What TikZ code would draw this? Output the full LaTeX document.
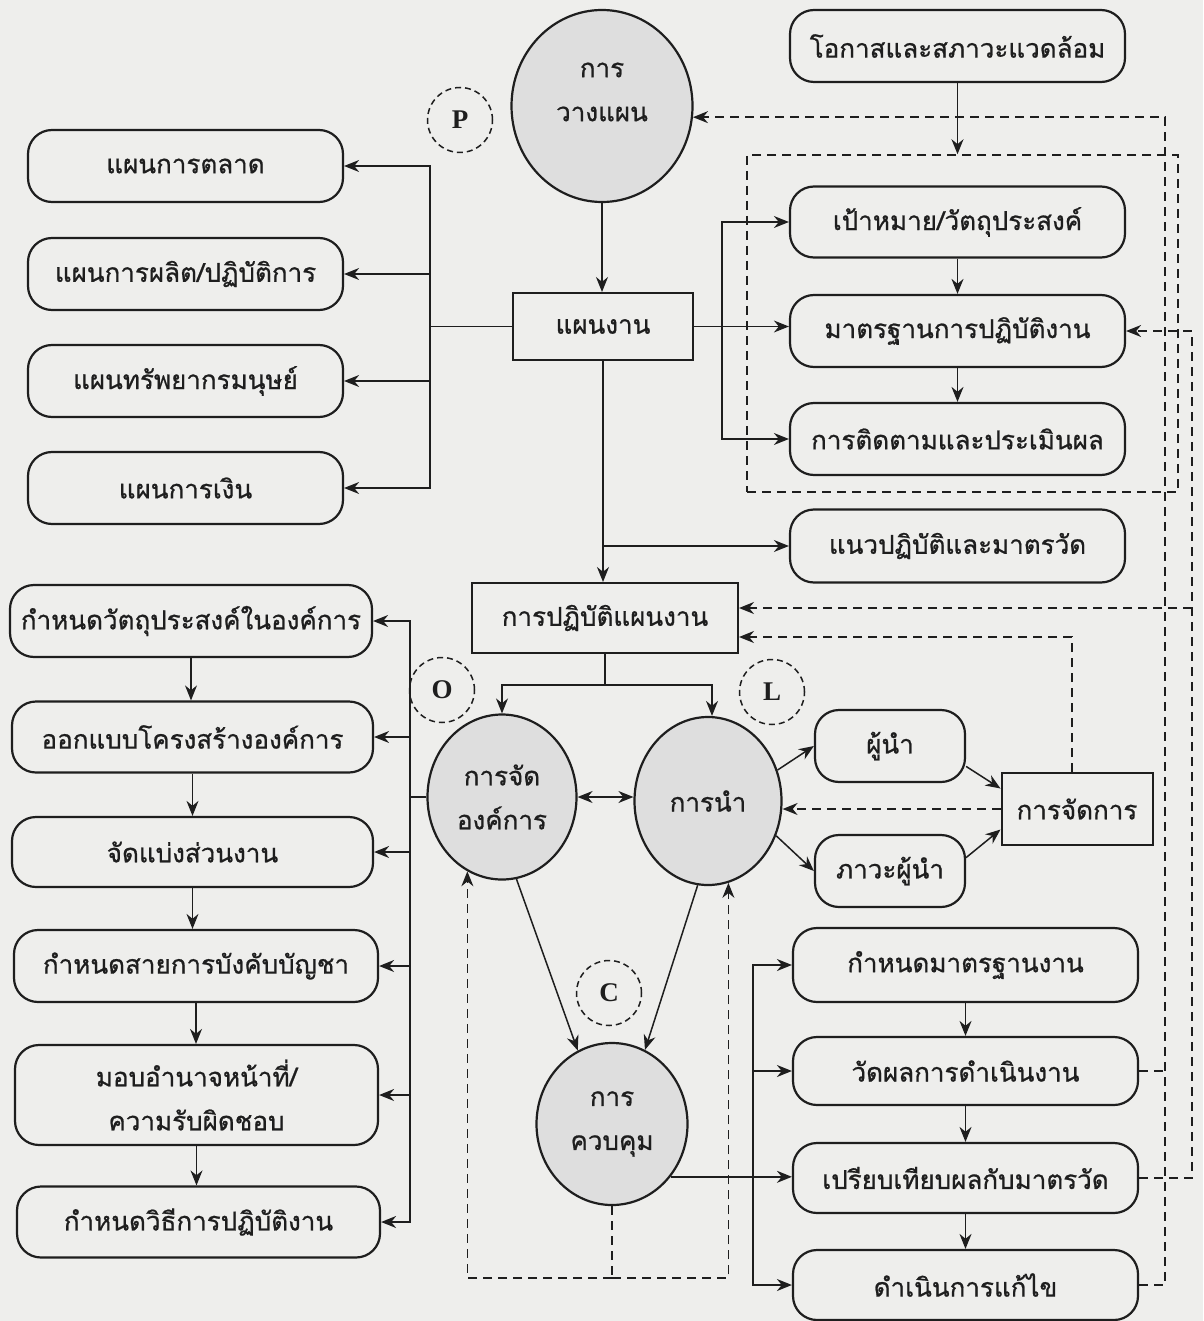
\documentclass[tikz,border=0pt]{standalone}
\usepackage{fontspec}
\setmainfont[Script=Thai, FakeBold=0.8]{Loma}
\newfontfamily\lettfont{Liberation Serif}
\usetikzlibrary{arrows.meta,shapes.geometric}

\definecolor{paper}{HTML}{EEEEEC}
\definecolor{discfill}{HTML}{DEDEDE}
\definecolor{ink}{HTML}{1E1E1E}

\begin{document}
\begin{tikzpicture}[x=1pt,y=-1pt,
  every node/.style={font=\fontsize{26}{44}\selectfont, text=ink},
  rbox/.style={draw=ink, line width=2.2pt, rounded corners=24pt, align=center, inner sep=0pt},
  sbox/.style={draw=ink, line width=2pt, align=center, inner sep=0pt},
  disc/.style={ellipse, draw=ink, line width=2.2pt, fill=discfill, align=center, inner sep=0pt},
  tag/.style={circle, draw=ink, line width=1.5pt, dash pattern=on 6pt off 4pt,
    minimum size=65pt, inner sep=0pt, font=\lettfont\bfseries\fontsize{27}{27}\selectfont},
  dashbox/.style={draw=ink, line width=1.5pt, dash pattern=on 9pt off 6pt, inner sep=0pt},
  arr/.style={draw=ink, line width=1.5pt, -{Stealth[length=15pt,width=12pt]}},
  dbl/.style={draw=ink, line width=1.5pt, {Stealth[length=15pt,width=12pt]}-{Stealth[length=15pt,width=12pt]}},
  link/.style={draw=ink, line width=1.5pt},
  darr/.style={draw=ink, line width=1.5pt, dash pattern=on 9pt off 6pt, -{Stealth[length=15pt,width=12pt]}},
  dlink/.style={draw=ink, line width=1.5pt, dash pattern=on 9pt off 6pt},
]
% paper
\fill[paper] (0,0) rectangle (1203,1321);
\useasboundingbox (0,0) rectangle (1203,1321);

% ---------- planning ----------
\node[disc, minimum width=181pt, minimum height=192pt] (plan) at (602,106) {};
\node[align=center] (plantext) at (602,92) {การ\\วางแผน};
\node[tag] (P) at (460,120) {P};
\node[sbox, minimum width=180pt, minimum height=67pt] (plans) at (603,326.5) {แผนงาน};

\node[rbox, minimum width=315pt, minimum height=72pt] (mkt)  at (185.5,166) {แผนการตลาด};
\node[rbox, minimum width=315pt, minimum height=72pt] (prod) at (185.5,274) {แผนการผลิต/ปฏิบัติการ};
\node[rbox, minimum width=315pt, minimum height=72pt] (hr)   at (185.5,381) {แผนทรัพยากรมนุษย์};
\node[rbox, minimum width=315pt, minimum height=72pt] (fin)  at (185.5,488) {แผนการเงิน};

\node[rbox, minimum width=335pt, minimum height=72pt] (env)   at (957.5,46)  {โอกาสและสภาวะแวดล้อม};
\node[dashbox, minimum width=431pt, minimum height=337pt] (dbox) at (962.5,323.5) {};
\node[rbox, minimum width=335pt, minimum height=71pt] (goal)  at (957.5,222) {เป้าหมาย/วัตถุประสงค์};
\node[rbox, minimum width=335pt, minimum height=72pt] (std)   at (957.5,331) {มาตรฐานการปฏิบัติงาน};
\node[rbox, minimum width=335pt, minimum height=72pt] (mon)   at (957.5,439) {การติดตามและประเมินผล};
\node[rbox, minimum width=335pt, minimum height=73pt] (guide) at (957.5,546) {แนวปฏิบัติและมาตรวัด};

\node[sbox, minimum width=266pt, minimum height=70pt] (impl) at (605,618) {การปฏิบัติแผนงาน};

% ---------- organizing / leading ----------
\node[tag] (O) at (442,690) {O};
\node[tag] (L) at (772,692) {L};
\node[disc, minimum width=149pt, minimum height=165pt] (org)  at (502,797) {การจัด\\องค์การ};
\node[disc, minimum width=147pt, minimum height=168pt] (lead) at (708,801) {การนำ};

\node[rbox, minimum width=362pt, minimum height=72pt]  (o1) at (191,621)  {กำหนดวัตถุประสงค์ในองค์การ};
\node[rbox, minimum width=361pt, minimum height=71pt]  (o2) at (192.5,737) {ออกแบบโครงสร้างองค์การ};
\node[rbox, minimum width=361pt, minimum height=70pt]  (o3) at (192.5,852) {จัดแบ่งส่วนงาน};
\node[rbox, minimum width=364pt, minimum height=72pt]  (o4) at (196,966)  {กำหนดสายการบังคับบัญชา};
\node[rbox, minimum width=363pt, minimum height=100pt] (o5) at (196.5,1095) {มอบอำนาจหน้าที่/\\ความรับผิดชอบ};
\node[rbox, minimum width=363pt, minimum height=71pt]  (o6) at (198.5,1222) {กำหนดวิธีการปฏิบัติงาน};

\node[rbox, minimum width=150pt, minimum height=72pt] (leader)     at (890,746) {ผู้นำ};
\node[rbox, minimum width=150pt, minimum height=72pt] (leadership) at (890,871) {ภาวะผู้นำ};
\node[sbox, minimum width=151pt, minimum height=72pt] (mgmt)       at (1077,809) {การจัดการ};

% ---------- controlling ----------
\node[tag] (C) at (609,993) {C};
\node[disc, minimum width=151pt, minimum height=162pt] (ctrl) at (612,1124) {การ\\ควบคุม};

\node[rbox, minimum width=345pt, minimum height=74pt] (c1) at (965.5,965)  {กำหนดมาตรฐานงาน};
\node[rbox, minimum width=345pt, minimum height=68pt] (c2) at (965.5,1071) {วัดผลการดำเนินงาน};
\node[rbox, minimum width=345pt, minimum height=70pt] (c3) at (965.5,1178) {เปรียบเทียบผลกับมาตรวัด};
\node[rbox, minimum width=345pt, minimum height=70pt] (c4) at (965.5,1285) {ดำเนินการแก้ไข};

% ---------- junction points ----------
\coordinate (lsp)  at (430,326.5);
\coordinate (rsp)  at (722,326.5);
\coordinate (isp)  at (605,685);
\coordinate (osp)  at (410,797);
\coordinate (csp)  at (753,1176);
\coordinate (fbx)  at (1165,0);
\coordinate (fby)  at (1192,0);
\coordinate (base) at (0,1278);
\coordinate (iin1) at ([yshift=10pt]impl.east);
\coordinate (iin2) at ([yshift=-19pt]impl.east);

% ---------- planning connectors ----------
\draw[arr] (plan.south) -- (plan.south |- plans.north);
\draw[link] (plans.west) -- (lsp);
\draw[arr] (lsp) |- (mkt.east);
\draw[arr] (lsp) |- (prod.east);
\draw[arr] (lsp) |- (hr.east);
\draw[arr] (lsp) |- (fin.east);

\draw[arr] (env.south) -- (env.south |- dbox.north);
\draw[arr] (goal.south) -- (std.north);
\draw[arr] (std.south) -- (mon.north);
\draw[arr] (plans.east) -- (plans.east -| std.west);
\draw[arr] (rsp) |- (goal.west);
\draw[arr] (rsp) |- (mon.west);

\draw[arr] (plans.south) -- (plans.south |- impl.north);
\draw[arr] (plans.south |- guide.west) -- (guide.west);

% ---------- organizing / leading connectors ----------
\draw[link] (impl.south) -- (isp);
\draw[arr] (isp) -| (org.north);
\draw[arr] (isp) -| ([xshift=4pt]lead.north);
\draw[dbl] (org.east) -- (org.east -| lead.west);

\draw[link] (org.west) -- (osp);
\draw[arr] (osp) |- (o1.east);
\draw[arr] (osp) |- (o2.east);
\draw[arr] (osp) |- (o3.east);
\draw[arr] (osp) |- (o4.east);
\draw[arr] (osp) |- (o5.east);
\draw[arr] (osp) |- (o6.east);
\draw[arr] (o1.south) -- (o1.south |- o2.north);
\draw[arr] (o2.south) -- (o2.south |- o3.north);
\draw[arr] (o3.south) -- (o3.south |- o4.north);
\draw[arr] (o4.south) -- (o4.south |- o5.north);
\draw[arr] (o5.south) -- (o5.south |- o6.north);

\draw[arr] (lead.24) -- (leader.west);
\draw[arr] (lead.-27) -- (leadership.west);
\draw[arr] (leader.-15) -- (mgmt.165);
\draw[arr] (leadership.10) -- (mgmt.195);
\draw[darr] (mgmt.west) -- (mgmt.west -| lead.east);
\draw[darr] ([xshift=-5pt]mgmt.north) |- (iin2);

% ---------- controlling connectors ----------
\draw[arr] (org.-80) -- (ctrl.115);
\draw[arr] (lead.-97) -- (ctrl.66);
\draw[arr] (ctrl.-42) -- (ctrl.-42 -| c3.west);
\draw[arr] (csp) |- (c1.west);
\draw[arr] (csp) |- (c2.west);
\draw[arr] (csp) |- (c4.west);
\draw[arr] (c1.south) -- (c2.north);
\draw[arr] (c2.south) -- (c3.north);
\draw[arr] (c3.south) -- (c4.north);

\draw[dlink] (ctrl.south) -- (ctrl.south |- base);
\draw[darr] (ctrl.south |- base) -| (org.-115);
\draw[darr] (ctrl.south |- base) -| (lead.-76);

% ---------- feedback loops ----------
\draw[darr] (c4.east) -| (fbx |- plan.-7) -- (plan.-7);
\draw[dlink] (c2.east) -- (c2.east -| fbx);
\draw[darr] (c3.east) -| (fby |- std.east) -- (std.east);
\draw[darr] (fby |- iin1) -- (iin1);
\end{tikzpicture}
\end{document}
